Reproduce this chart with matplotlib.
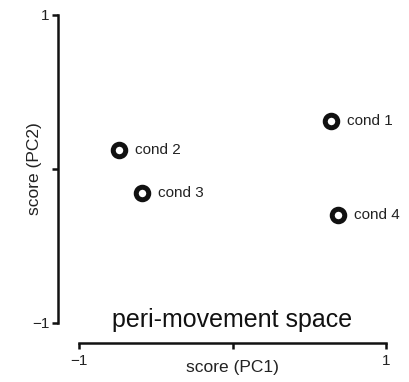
import matplotlib
matplotlib.use('Agg')
import matplotlib.pyplot as plt

plt.rcParams['font.family'] = ['Liberation Sans', 'DejaVu Sans']

# condition scores in PC space
conds = ['cond 1', 'cond 2', 'cond 3', 'cond 4']
pc1 = [0.64, -0.74, -0.59, 0.69]
pc2 = [0.31, 0.12, -0.155, -0.30]

fig = plt.figure(figsize=(4.10, 3.82), dpi=100)
ax = fig.add_axes([0.1927, 0.1545, 0.7488, 0.8063])

ax.plot(pc1, pc2, 'o', ms=9, mfc='white', mec='#111111', mew=3.6, ls='none')
for name, x, y in zip(conds, pc1, pc2):
    ax.annotate(name, (x, y), xytext=(11.5, 0), textcoords='offset points',
                va='center', ha='left', fontsize=11, color='#222222')

ax.text(0, -0.98, 'peri-movement space', ha='center', va='center',
        fontsize=18, color='#111111')

ax.set_xlim(-1, 1)
ax.set_ylim(-1, 1)
ax.set_xticks([-1, 0, 1])
ax.set_xticklabels(['\u22121', '', '1'])
ax.set_yticks([-1, 0, 1])
ax.set_yticklabels(['\u22121', '', '1'])

for s in ['top', 'right']:
    ax.spines[s].set_visible(False)
ax.spines['left'].set_position(('outward', 15))
ax.spines['bottom'].set_position(('outward', 14.5))
for s in ['left', 'bottom']:
    ax.spines[s].set_linewidth(1.8)
    ax.spines[s].set_color('#111111')
ax.tick_params(length=4.5, width=1.8, color='#111111', labelsize=11,
               labelcolor='#222222', pad=2)
ax.tick_params(axis='x', pad=3.5)

ax.set_xlabel('score (PC1)', fontsize=12.5, color='#222222')
ax.set_ylabel('score (PC2)', fontsize=12.5, color='#222222')
ax.xaxis.set_label_coords(0.5, -0.12)
ax.yaxis.set_label_coords(-0.12, 0.5)

fig.savefig('out.png', dpi=100)
